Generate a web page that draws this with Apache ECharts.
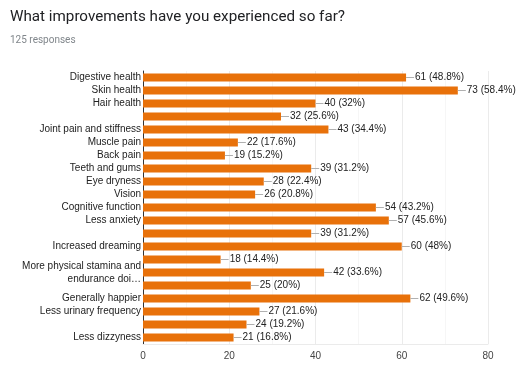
<!DOCTYPE html>
<html>
<head>
<meta charset="utf-8">
<script src="https://cdn.jsdelivr.net/npm/echarts@6/dist/echarts.min.js"></script>
<style>html,body{margin:0;padding:0;background:#fff}#c{width:529px;height:369px}</style>
</head>
<body>
<div id="c"></div>
<script>
const categories = [
  "Digestive health", "Skin health", "Hair health", "",
  "Joint pain and stiffness", "Muscle pain", "Back pain", "Teeth and gums",
  "Eye dryness", "Vision", "Cognitive function", "Less anxiety", "",
  "Increased dreaming", "", "More physical stamina and\nendurance doi\u2026", "",
  "Generally happier", "Less urinary frequency", "", "Less dizzyness"
];
const values = [61, 73, 40, 32, 43, 22, 19, 39, 28, 26, 54, 57, 39, 60, 18, 42, 25, 62, 27, 24, 21];
const totalResponses = 125;
const xTicks = [0, 20, 40, 60, 80];

const chart = echarts.init(document.getElementById('c'), null, {renderer: 'canvas'});
const FONT = '"Liberation Sans", Arial, sans-serif';
chart.setOption({
  animation: false,
  title: [
    {text: 'What improvements have you experienced so far?', left: 10, top: 10, padding: 0,
     textStyle: {fontFamily: 'Roboto, sans-serif', fontSize: 15.2, fontWeight: 'normal', color: '#202124'}},
    {text: totalResponses + ' responses', left: 10, top: 35, padding: 0,
     textStyle: {fontFamily: 'Roboto, sans-serif', fontSize: 10, fontWeight: 'normal', color: '#80868b'}}
  ],
  grid: {left: 143, right: 41, top: 71, bottom: 25, containLabel: false},
  xAxis: {
    type: 'value', min: xTicks[0], max: xTicks[xTicks.length - 1], interval: 20,
    axisLine: {show: true, lineStyle: {color: '#ebebeb'}},
    axisTick: {show: false},
    axisLabel: {color: '#444', fontFamily: FONT, fontSize: 10, margin: 7},
    splitLine: {show: true, lineStyle: {color: '#ebebeb'}},
    minorTick: {show: false, splitNumber: 2},
    minorSplitLine: {show: true, lineStyle: {color: '#f6f6f6'}}
  },
  yAxis: {
    type: 'category', data: categories, inverse: true,
    axisLine: {show: true, lineStyle: {color: '#333'}},
    axisTick: {show: false},
    axisLabel: {color: '#222', fontFamily: FONT, fontSize: 10, margin: 2, lineHeight: 13, interval: 0}
  },
  series: [{
    type: 'bar', data: values, barCategoryGap: '40%',
    itemStyle: {color: '#e8710a'},
    label: {
      show: true, position: 'right', distance: 0,
      formatter: p => '{ln|}{v|' + p.value + ' (' + parseFloat((p.value / totalResponses * 100).toFixed(1)) + '%)}',
      rich: {
        ln: {width: 8, height: 1, backgroundColor: '#b0b0b0'},
        v: {color: '#222', fontFamily: FONT, fontSize: 10, padding: [0, 0, 0, 1]}
      }
    }
  }]
});
</script>
</body>
</html>
